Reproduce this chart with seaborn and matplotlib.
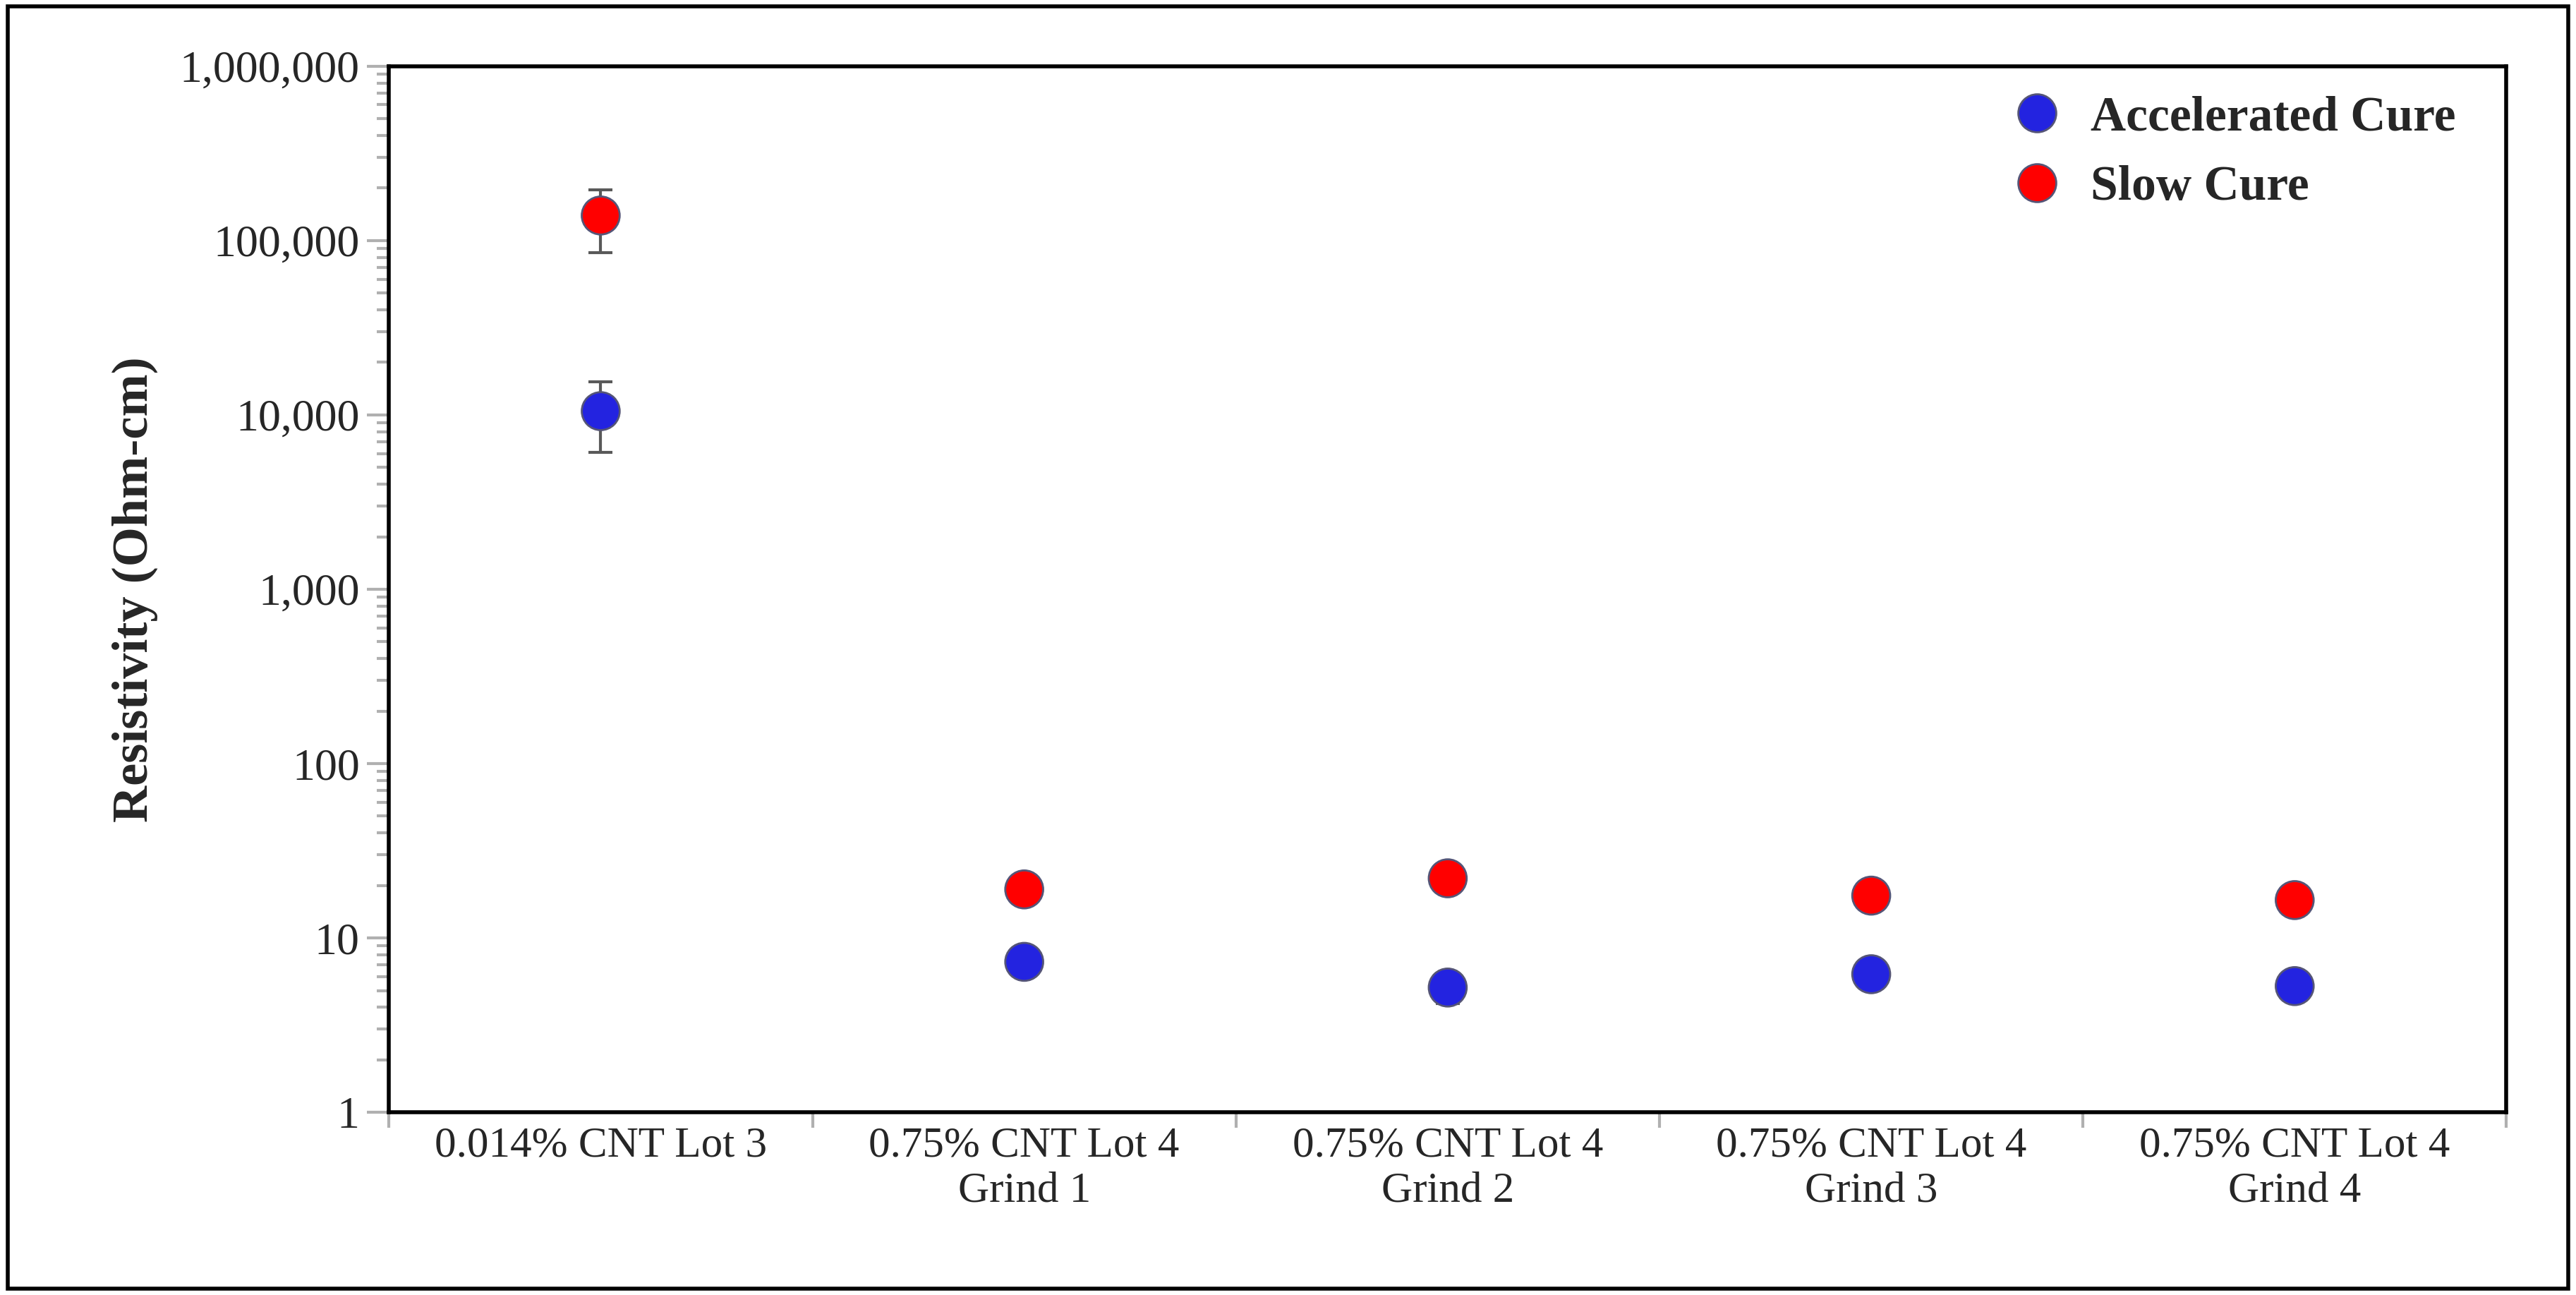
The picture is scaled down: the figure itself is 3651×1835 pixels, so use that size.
import numpy as np
import pandas as pd
import matplotlib
matplotlib.use("Agg")
import matplotlib.pyplot as plt
import seaborn as sns
from matplotlib.ticker import FuncFormatter, LogLocator, NullFormatter, FixedLocator

categories = ["0.014% CNT Lot 3", "0.75% CNT Lot 4\nGrind 1", "0.75% CNT Lot 4\nGrind 2",
              "0.75% CNT Lot 4\nGrind 3", "0.75% CNT Lot 4\nGrind 4"]
accel = [10500, 7.3, 5.2, 6.2, 5.3]
accel_lo = [4400, 0.3, 1.0, 0.3, 0.3]
accel_hi = [5000, 0.3, 1.1, 0.3, 0.3]
slow = [139000, 19, 22, 17.5, 16.5]
slow_lo = [54000, 3.0, 0.5, 0.5, 0.5]
slow_hi = [56000, 0.5, 0.5, 0.5, 0.5]

sns.set_style("white")
plt.rcParams['font.family'] = ['Liberation Serif', 'DejaVu Serif']

df = pd.DataFrame({
    "x": list(range(5)) * 2,
    "val": accel + slow,
    "series": ["Accelerated Cure"] * 5 + ["Slow Cure"] * 5,
})

fig = plt.figure(figsize=(36.51, 18.35), dpi=100)
ax = fig.add_axes([0.151, 0.141, 0.822, 0.808])

xs = np.arange(5)
ax.errorbar(xs, accel, yerr=[accel_lo, accel_hi], fmt="none", ecolor="#595959",
            elinewidth=3, capsize=12, capthick=3, zorder=2)
ax.errorbar(xs, slow, yerr=[slow_lo, slow_hi], fmt="none", ecolor="#595959",
            elinewidth=3, capsize=12, capthick=3, zorder=2)
sns.scatterplot(data=df, x="x", y="val", hue="series",
                palette={"Accelerated Cure": "#2323e0", "Slow Cure": "#ff0000"},
                s=1500, edgecolor="#555577", linewidth=2, ax=ax, zorder=3)

ax.set_yscale("log")
ax.set_ylim(1, 1e6)
ax.set_xlim(-0.5, 4.5)
ax.yaxis.set_major_locator(LogLocator(base=10, numticks=10))
ax.yaxis.set_minor_locator(LogLocator(base=10, subs=np.arange(2, 10), numticks=20))
ax.yaxis.set_major_formatter(FuncFormatter(lambda v, p: f"{v:,.0f}"))
ax.yaxis.set_minor_formatter(NullFormatter())
ax.tick_params(axis="y", which="major", left=True, direction="out", length=22, width=3,
               color="#b0b0b0", labelsize=46, pad=8)
ax.tick_params(axis="y", which="minor", left=True, direction="out", length=12, width=3,
               color="#b0b0b0")

ax.xaxis.set_major_locator(FixedLocator(np.arange(-0.5, 5, 1)))
ax.xaxis.set_major_formatter(NullFormatter())
ax.xaxis.set_minor_locator(FixedLocator(xs))
ax.set_xticklabels(categories, minor=True)
ax.tick_params(axis="x", which="major", bottom=True, direction="out", length=16, width=3,
               color="#b0b0b0")
ax.tick_params(axis="x", which="minor", bottom=True, length=0, labelsize=44, pad=14)

for s in ax.spines.values():
    s.set_color("black")
    s.set_linewidth(4)

ax.set_xlabel("")
ax.set_ylabel("Resistivity (Ohm-cm)", fontsize=52, fontweight="bold", labelpad=22)

leg = ax.legend(loc="upper right", frameon=False, fontsize=50, markerscale=1.0,
                handletextpad=0.1, labelspacing=0.5, borderaxespad=0.2,
                bbox_to_anchor=(0.99, 1.0))
for t in leg.get_texts():
    t.set_fontweight("bold")

fig.patches.append(plt.Rectangle((0.003, 0.005), 0.994, 0.99, transform=fig.transFigure,
                                 fill=False, edgecolor="black", linewidth=4))

fig.savefig("out.png", dpi=100)
